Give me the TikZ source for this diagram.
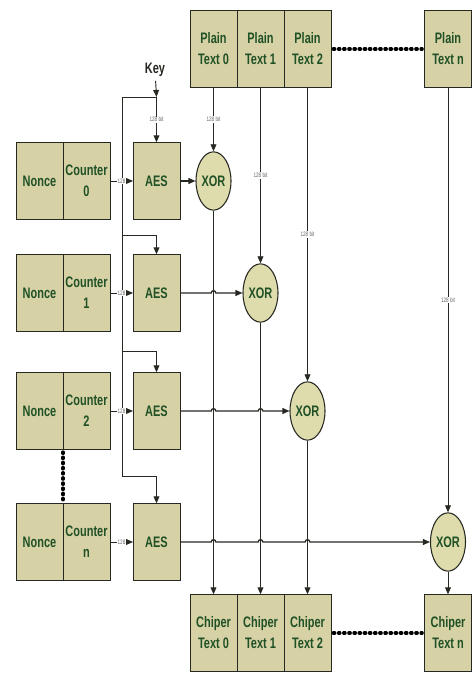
\documentclass[tikz,border=0pt]{standalone}
\usepackage{fontspec}
\newfontfamily\diagfont{Liberation Sans}[FakeStretch=0.72]
\usetikzlibrary{shapes.geometric, arrows.meta, positioning, calc}
\definecolor{boxfill}{RGB}{214,210,165}
\definecolor{xorfill}{RGB}{222,220,172}
\definecolor{txtgreen}{RGB}{32,80,38}
\definecolor{lnedark}{RGB}{38,40,34}
\tikzset{
  cell/.style={rectangle, draw=lnedark, fill=boxfill,
    minimum width=1.41cm, minimum height=2.32cm, align=center,
    inner sep=1pt, outer sep=0pt, text=txtgreen, line width=0.7pt,
    font=\diagfont\bfseries\fontsize{13}{18}\selectfont},
  xorgate/.style={ellipse, draw=lnedark, fill=xorfill,
    minimum width=1.05cm, minimum height=1.75cm, inner sep=0pt,
    text=txtgreen, line width=0.9pt,
    font=\diagfont\bfseries\fontsize{13}{15}\selectfont},
  arrow/.style={-{Triangle[length=6pt,width=5pt]}, line width=0.8pt, color=lnedark},
  thickarrow/.style={arrow, line width=1.1pt},
  line/.style={line width=0.8pt, color=lnedark},
  bits/.style={fill=white, inner sep=0.6pt, text=black!60,
    font=\diagfont\fontsize{5.5}{6}\selectfont},
  dots/.style={line width=2.8pt, line cap=round, dash pattern=on 1.2pt off 3.2pt, color=black}
}
\begin{document}
\begin{tikzpicture}[x=0.03cm, y=0.03cm]
  \useasboundingbox (0,0) rectangle (472,673);
  % Nonce and counter blocks
  \node[cell] (nonce0) at (39.5,492) {Nonce};
  \node[cell, right=0pt of nonce0] (ctr0) {Counter\\0};
  \node[cell] (nonce1) at (39.5,380) {Nonce};
  \node[cell, right=0pt of nonce1] (ctr1) {Counter\\1};
  \node[cell] (nonce2) at (39.5,262) {Nonce};
  \node[cell, right=0pt of nonce2] (ctr2) {Counter\\2};
  \node[cell] (noncen) at (39.5,131) {Nonce};
  \node[cell, right=0pt of noncen] (ctrn) {Counter\\n};
  % AES blocks
  \node[cell] (aes0) at (156.5,492) {AES};
  \node[cell] (aes1) at (156.5,380) {AES};
  \node[cell] (aes2) at (156.5,262) {AES};
  \node[cell] (aesn) at (156.5,131) {AES};
  % XOR gates
  \node[xorgate] (xor0) at (213.5,492) {XOR};
  \node[xorgate] (xor1) at (260.5,380) {XOR};
  \node[xorgate] (xor2) at (307.5,262) {XOR};
  \node[xorgate] (xorn) at (448,131) {XOR};
  % Plain text
  \node[cell] (pt0) at (213.5,624) {Plain\\Text 0};
  \node[cell, right=0pt of pt0] (pt1) {Plain\\Text 1};
  \node[cell, right=0pt of pt1] (pt2) {Plain\\Text 2};
  \node[cell] (ptn) at (448,624) {Plain\\Text n};
  % Chiper text
  \node[cell] (ct0) at (213.5,40) {Chiper\\Text 0};
  \node[cell, right=0pt of ct0] (ct1) {Chiper\\Text 1};
  \node[cell, right=0pt of ct1] (ct2) {Chiper\\Text 2};
  \node[cell] (ctn) at (448,40) {Chiper\\Text n};
  % Key
  \node[text=lnedark, font=\diagfont\bfseries\fontsize{13}{15}\selectfont] (key) at (155,603) {Key};
  \coordinate (kj) at (156.5,576);
  \coordinate (b1) at (122,438);
  \coordinate (b2) at (122,322);
  \coordinate (bn) at (122,197);
  \draw[arrow] (key) -- (kj);
  \draw[arrow] (kj) -- node[bits] {128 bit} (aes0);
  \draw[line] (kj) -| (bn);
  \draw[arrow] (b1) -| (aes1.north);
  \draw[arrow] (b2) -| (aes2.north);
  \draw[arrow] (bn) -| (aesn.north);
  % Counter to AES
  \draw[arrow] (ctr0) -- node[bits] {128} (aes0);
  \draw[arrow] (ctr1) -- node[bits] {128} (aes1);
  \draw[arrow] (ctr2) -- node[bits] {128} (aes2);
  \draw[arrow] (ctrn) -- node[bits] {128} (aesn);
  % AES to XOR
  \draw[thickarrow] (aes0) -- (xor0);
  \draw[thickarrow] (aes1) -- ([xshift=-2pt]aes1.east -| pt0.south)
    arc[start angle=180, end angle=0, radius=2pt] -- (xor1);
  \draw[thickarrow] (aes2) -- ([xshift=-2pt]aes2.east -| pt0.south)
    arc[start angle=180, end angle=0, radius=2pt]
    -- ([xshift=-2pt]aes2.east -| pt1.south)
    arc[start angle=180, end angle=0, radius=2pt] -- (xor2);
  \draw[thickarrow] (aesn) -- ([xshift=-2pt]aesn.east -| pt0.south)
    arc[start angle=180, end angle=0, radius=2pt]
    -- ([xshift=-2pt]aesn.east -| pt1.south)
    arc[start angle=180, end angle=0, radius=2pt]
    -- ([xshift=-2pt]aesn.east -| pt2.south)
    arc[start angle=180, end angle=0, radius=2pt] -- (xorn);
  % Plain text to XOR to chiper text
  \draw[arrow] (pt0) -- node[bits] {128 bit} (xor0);
  \draw[arrow] (pt1) -- node[bits] {128 bit} (xor1);
  \draw[arrow] (pt2) -- node[bits] {128 bit} (xor2);
  \draw[arrow] (ptn) -- node[bits] {128 bit} (xorn);
  \draw[arrow] (xor0) -- (ct0);
  \draw[arrow] (xor1) -- (ct1);
  \draw[arrow] (xor2) -- (ct2);
  \draw[arrow] (xorn) -- (ctn);
  % Dotted continuations
  \draw[dots] ([xshift=2pt]pt2.east) -- ([xshift=-2pt]ptn.west);
  \draw[dots] ([xshift=2pt]ct2.east) -- ([xshift=-2pt]ctn.west);
  \draw[dots] ([yshift=-2pt]nonce2.south east) -- ([yshift=2pt]noncen.north east);
\end{tikzpicture}
\end{document}
